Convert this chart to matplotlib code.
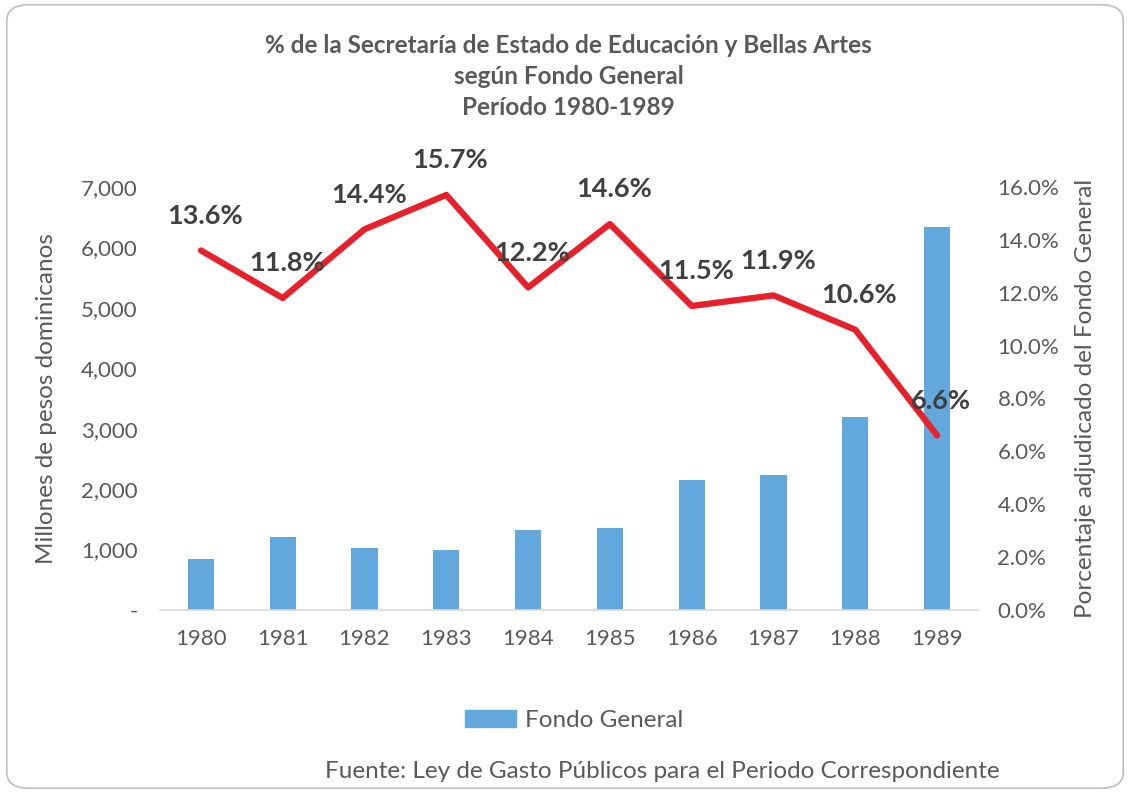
import matplotlib
matplotlib.use('Agg')
import matplotlib.pyplot as plt
from matplotlib.patches import FancyBboxPatch, Patch
from matplotlib.ticker import FuncFormatter

plt.rcParams['font.family'] = ['Lato', 'DejaVu Sans']

# ---- data ----
years = ['1980', '1981', '1982', '1983', '1984', '1985', '1986', '1987', '1988', '1989']
fondo_general = [840, 1200, 1030, 1000, 1325, 1360, 2150, 2230, 3190, 6340]
pct_secretaria = [13.6, 11.8, 14.4, 15.7, 12.2, 14.6, 11.5, 11.9, 10.6, 6.6]

gray = '#595959'
bar_color = '#62A8DC'
line_color = '#E8202A'

fig = plt.figure(figsize=(11.3, 7.93), dpi=100)

# rounded chart border
border = FancyBboxPatch((0.006, 0.006), 0.988, 0.988,
                        boxstyle='round,pad=0,rounding_size=0.02',
                        transform=fig.transFigure, fill=False,
                        edgecolor='#BFBFBF', linewidth=1.2)
fig.patches.append(border)

ax = fig.add_axes([0.1416, 0.2308, 0.7239, 0.5334])
x = list(range(len(years)))
ax.bar(x, fondo_general, width=0.32, color=bar_color, zorder=2)
ax.set_xlim(-0.5, len(years) - 0.5)
ax.set_ylim(0, 7000)
ax.set_yticks(range(0, 7001, 1000))
ax.yaxis.set_major_formatter(FuncFormatter(lambda v, p: '-' if v == 0 else f'{int(v):,}'))
ax.set_xticks(x)
ax.set_xticklabels(years)
for s in ['top', 'left', 'right']:
    ax.spines[s].set_visible(False)
ax.spines['bottom'].set_color('#D9D9D9')
ax.spines['bottom'].set_linewidth(1.2)
ax.tick_params(axis='both', length=0, labelsize=16, colors=gray)
ax.tick_params(axis='y', pad=16)
ax.tick_params(axis='x', pad=14)
ax.set_ylabel('Millones de pesos dominicanos', fontsize=17.5, color=gray, labelpad=17)

ax2 = ax.twinx()
ax2.plot(x, [p / 100 for p in pct_secretaria], color=line_color, linewidth=4.5,
         solid_capstyle='round', solid_joinstyle='round', zorder=3)
ax2.set_ylim(0, 0.16)
ax2.set_yticks([i / 100 for i in range(0, 17, 2)])
ax2.yaxis.set_major_formatter(FuncFormatter(lambda v, p: f'{v * 100:.1f}%'))
for s in ['top', 'left', 'right', 'bottom']:
    ax2.spines[s].set_visible(False)
ax2.tick_params(axis='y', length=0, labelsize=16, colors=gray, pad=14)
ax2.set_ylabel('Porcentaje adjudicado del Fondo General', fontsize=17.5, color=gray, labelpad=11)

for xi, p in zip(x, pct_secretaria):
    ax2.annotate(f'{p:.1f}%', (xi, p / 100), xytext=(3, 25), textcoords='offset points',
                 ha='center', va='center', fontsize=19.5, fontweight='bold', color='#404040')

fig.text(0.503, 0.957, '% de la Secretaría de Estado de Educación y Bellas Artes\n'
         'según Fondo General\nPeríodo 1980-1989',
         ha='center', va='top', fontsize=17.5, fontweight='bold', color=gray, linespacing=1.42)

fig.legend(handles=[Patch(color=bar_color, label='Fondo General')],
           loc='center', bbox_to_anchor=(0.508, 0.092), frameon=False,
           fontsize=17.5, labelcolor=gray, handlelength=2.1, handleheight=0.7,
           handletextpad=0.35)

fig.text(0.885, 0.027, 'Fuente: Ley de Gasto Públicos para el Periodo Correspondiente',
         ha='right', va='center', fontsize=17.5, color=gray)

fig.savefig('out.png', dpi=100)
